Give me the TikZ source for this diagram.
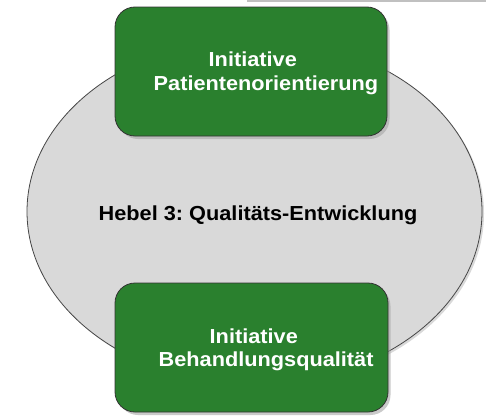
\documentclass[tikz,border=0pt]{standalone}
\usepackage{fontspec}
\usepackage{graphicx}
\setmainfont{Liberation Sans}
\frenchspacing
\definecolor{boxgreen}{RGB}{42,128,46}
\definecolor{ellgray}{RGB}{217,217,217}
\definecolor{ellline}{RGB}{70,70,70}
\definecolor{topline}{RGB}{192,192,192}
\newcommand{\txt}[1]{\scalebox{1.07}[1]{\fontsize{20.3pt}{24pt}\selectfont\bfseries\frenchspacing #1}}
\tikzset{
  x=1pt, y=1pt,
  greenbox/.style={draw=black!80, line width=0.8pt, fill=boxgreen, rounded corners=20pt},
  shadowbox/.style={fill=black!35, opacity=0.6, rounded corners=20pt},
  boxtext/.style={inner sep=0pt, anchor=base west, text=white},
  midtext/.style={inner sep=0pt, anchor=base west, text=black}
}
\begin{document}
\begin{tikzpicture}
\useasboundingbox (0,0) rectangle (486,-415);
% top gray line
\fill[topline] (247,0) rectangle (486,-2);
% ellipse shadow + ellipse
\fill[black!25, opacity=0.6] (256.5,-213.5) ellipse [x radius=227.5, y radius=173];
\draw[fill=ellgray, draw=ellline, line width=0.8pt] (254.5,-211.5) ellipse [x radius=227.5, y radius=173];
\node[midtext] (hebel) at (98.5,-220) {\txt{Hebel 3: Qualitäts-Entwicklung}};
% top box
\fill[shadowbox] (118,-10) rectangle (389.5,-139);
\draw[greenbox] (115,-7) rectangle (387,-136);
\node[boxtext] (t1) at (208.5,-66.7) {\txt{Initiative}};
\node[boxtext] (t2) at (153.5,-90) {\txt{Patientenorientierung}};
% bottom box
\fill[shadowbox] (118,-286) rectangle (390.5,-415);
\draw[greenbox] (115,-283) rectangle (388,-412);
\node[boxtext] (b1) at (209.5,-343) {\txt{Initiative}};
\node[boxtext] (b2) at (158.5,-366) {\txt{Behandlungsqualität}};
\end{tikzpicture}
\end{document}
